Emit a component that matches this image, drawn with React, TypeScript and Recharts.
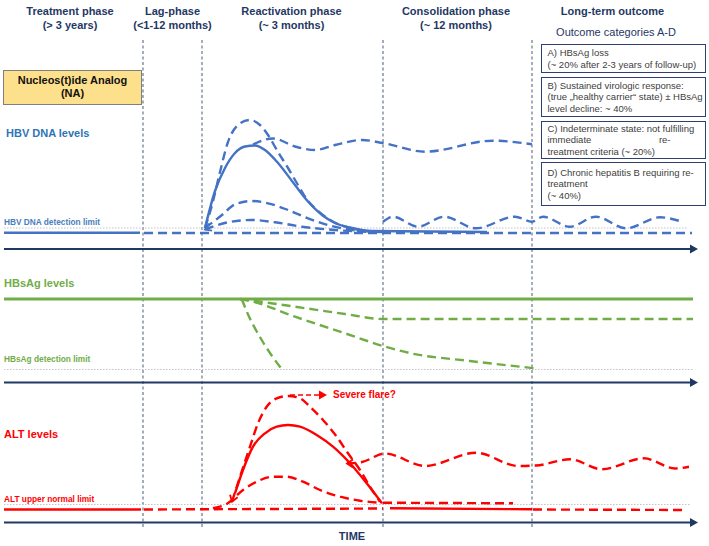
import React from "react";
import { ComposedChart, Line, Scatter, XAxis, YAxis, ReferenceLine } from "recharts";

// Schematic coordinates: x = time (0-709), y = depth from the top of the figure (0-546)
type Pt = { x: number; y: number };

const phaseBoundaries = [143, 202, 383, 532];
const phaseSpan = [40, 527];

// --- HBV DNA panel ---
const hbvAxis: Pt[] = [{ x: 4, y: 249 }, { x: 694, y: 249 }];
const hbvLimit: Pt[] = [{ x: 4, y: 228 }, { x: 688, y: 228 }];
const hbvOnTreatment: Pt[] = [{ x: 4, y: 232.7 }, { x: 140, y: 232.7 }];
const hbvBaseline: Pt[] = [{ x: 144, y: 233 }, { x: 692, y: 233 }];
const hbvFlare: Pt[] = [
  { x: 205, y: 228 }, { x: 215, y: 191 }, { x: 225, y: 168 }, { x: 235, y: 153 }, { x: 245, y: 146.5 },
  { x: 255, y: 145.5 }, { x: 265, y: 150 }, { x: 278, y: 163 }, { x: 295, y: 185 }, { x: 308, y: 201.5 },
  { x: 322, y: 215 }, { x: 335, y: 223 }, { x: 352, y: 228 }, { x: 372, y: 231 }, { x: 487, y: 232 },
];
const hbvHigh: Pt[] = [
  { x: 205, y: 228 }, { x: 212, y: 205 }, { x: 220, y: 172 }, { x: 228, y: 142 }, { x: 238, y: 125 },
  { x: 250, y: 120 }, { x: 260, y: 125 }, { x: 268, y: 135 }, { x: 278, y: 152 }, { x: 288, y: 168 },
  { x: 298, y: 185 }, { x: 308, y: 201 }, { x: 318, y: 211 }, { x: 330, y: 220 }, { x: 350, y: 228 },
  { x: 372, y: 231.5 },
];
const hbvPlateau: Pt[] = [
  { x: 253, y: 144.5 }, { x: 273, y: 138.5 }, { x: 295, y: 146.5 }, { x: 315, y: 150 }, { x: 335, y: 145 },
  { x: 362, y: 140 }, { x: 383, y: 143 }, { x: 425, y: 151.7 }, { x: 493, y: 140.7 }, { x: 532, y: 144.3 },
];
const hbvModerate: Pt[] = [
  { x: 205, y: 228 }, { x: 222, y: 215 }, { x: 235, y: 204.3 }, { x: 252, y: 201 }, { x: 268, y: 203.3 },
  { x: 288, y: 210 }, { x: 308, y: 218.3 }, { x: 328, y: 225 }, { x: 352, y: 230 }, { x: 382, y: 232 },
];
const hbvLow: Pt[] = [
  { x: 205, y: 229.5 }, { x: 228, y: 222.3 }, { x: 252, y: 220 }, { x: 275, y: 222.3 }, { x: 302, y: 226.7 },
  { x: 335, y: 230 }, { x: 372, y: 232 },
];
const hbvFluctuating: Pt[] = [
  { x: 383, y: 221.7 }, { x: 393, y: 216.7 }, { x: 418, y: 226.7 }, { x: 444, y: 216.7 }, { x: 476, y: 228.3 },
  { x: 515, y: 216.7 }, { x: 532, y: 221.7 }, { x: 543, y: 216.7 }, { x: 570, y: 226.7 }, { x: 596, y: 216.7 },
  { x: 626, y: 228.3 }, { x: 660, y: 217.3 }, { x: 682, y: 221.7 },
];

// --- HBsAg panel ---
const hbsAxis: Pt[] = [{ x: 4, y: 382.5 }, { x: 694, y: 382.5 }];
const hbsLimit: Pt[] = [{ x: 4, y: 369.5 }, { x: 693, y: 369.5 }];
const hbsStable: Pt[] = [{ x: 4, y: 299 }, { x: 693, y: 299 }];
const hbsDecline: Pt[] = [
  { x: 240, y: 299 }, { x: 248, y: 300 }, { x: 295, y: 306.7 }, { x: 345, y: 314 }, { x: 383, y: 319 },
  { x: 693, y: 319 },
];
const hbsGradual: Pt[] = [
  { x: 240, y: 299 }, { x: 253, y: 301.7 }, { x: 295, y: 316.7 }, { x: 345, y: 333.3 }, { x: 383, y: 346 },
  { x: 411, y: 353.3 }, { x: 470, y: 361 }, { x: 535, y: 368.3 },
];
const hbsLoss: Pt[] = [
  { x: 241.7, y: 299 }, { x: 248.3, y: 315 }, { x: 261.7, y: 340 }, { x: 282, y: 369.5 },
];

// --- ALT panel ---
const altAxis: Pt[] = [{ x: 4, y: 522.5 }, { x: 694, y: 522.5 }];
const altLimit: Pt[] = [{ x: 4, y: 504.5 }, { x: 690, y: 504.5 }];
const altOnTreatment: Pt[] = [{ x: 4, y: 509.5 }, { x: 141, y: 509.5 }];
const altBaseline: Pt[] = [{ x: 144, y: 509.5 }, { x: 383, y: 508.5 }];
const altAfterSolid: Pt[] = [{ x: 390, y: 508.3 }, { x: 532, y: 509.3 }];
const altAfterDashed: Pt[] = [{ x: 533, y: 509.5 }, { x: 686, y: 510 }];
const altShort: Pt[] = [{ x: 383, y: 502.7 }, { x: 513, y: 503.3 }];
const altFlare: Pt[] = [
  { x: 235, y: 493.3 }, { x: 243, y: 470 }, { x: 253, y: 446.7 }, { x: 265, y: 433.3 }, { x: 276.7, y: 426.7 },
  { x: 288, y: 425 }, { x: 300, y: 426.7 }, { x: 316.7, y: 435 }, { x: 333, y: 446.7 }, { x: 350, y: 463.3 },
  { x: 366.7, y: 483.3 }, { x: 382, y: 503.3 },
];
const altSevere: Pt[] = [
  { x: 232, y: 501.7 }, { x: 240, y: 476.7 }, { x: 250, y: 446.7 }, { x: 258, y: 423.3 }, { x: 266.7, y: 406.7 },
  { x: 276.7, y: 398.3 }, { x: 288, y: 396 }, { x: 300, y: 398.3 }, { x: 310, y: 406.7 }, { x: 323, y: 420 },
  { x: 336.7, y: 436.7 }, { x: 348, y: 453.3 }, { x: 360, y: 470 }, { x: 370, y: 486.7 }, { x: 380, y: 501.7 },
];
const altModerate: Pt[] = [
  { x: 213, y: 508.3 }, { x: 226.7, y: 504 }, { x: 243, y: 490 }, { x: 256.7, y: 481.7 }, { x: 273, y: 476.7 },
  { x: 286.7, y: 476.7 }, { x: 303, y: 481.7 }, { x: 320, y: 490 }, { x: 340, y: 496.7 }, { x: 360, y: 500.7 },
  { x: 380, y: 502.7 },
];
const altSevereArrow: Pt[] = [{ x: 290, y: 395 }, { x: 322, y: 395 }];
const altFluctuating: Pt[] = [
  { x: 347, y: 463.5 }, { x: 362, y: 462 }, { x: 385, y: 453.5 }, { x: 425, y: 466 }, { x: 476, y: 452.7 },
  { x: 518, y: 466 }, { x: 536, y: 465.5 }, { x: 570, y: 459.3 }, { x: 602, y: 469.3 }, { x: 644, y: 458.3 },
  { x: 675, y: 468.5 }, { x: 689, y: 466.7 },
];

// arrowhead anchors
const axisHeads: Pt[] = [{ x: 698, y: 249 }, { x: 698, y: 382.5 }, { x: 698, y: 522.5 }];
const flareHead: Pt[] = [{ x: 327, y: 395 }];
const severeHead: Pt[] = [{ x: 232, y: 501.7 }];
const hbvLowHead: Pt[] = [{ x: 205, y: 229.5 }];
const altWaveHead: Pt[] = [{ x: 347, y: 463.5 }];

const NAVY = "#1f3864";
const BLUE = "#4472c4";
const GREEN = "#70ad47";
const RED = "#ff0000";

const solidHead = (color: string, angle: number) => (p: any) => (
  <path
    d={`M${p.cx - 8},${p.cy - 4.5}L${p.cx},${p.cy}L${p.cx - 8},${p.cy + 4.5}Z`}
    fill={color}
    transform={`rotate(${angle} ${p.cx} ${p.cy})`}
  />
);
const openHead = (color: string, angle: number) => (p: any) => (
  <path
    d={`M${p.cx - 6},${p.cy - 4}L${p.cx},${p.cy}L${p.cx - 6},${p.cy + 4}`}
    fill="none"
    stroke={color}
    strokeWidth={1.8}
    transform={`rotate(${angle} ${p.cx} ${p.cy})`}
  />
);

function series(data: Pt[], color: string, width: number, dash?: string, type: any = "monotone") {
  return (
    <Line
      data={data}
      dataKey="y"
      type={type}
      stroke={color}
      strokeWidth={width}
      strokeDasharray={dash}
      dot={false}
      activeDot={false}
      isAnimationActive={false}
      legendType="none"
    />
  );
}

const headers = [
  { title: "Treatment phase", sub: "(> 3 years)", cx: 70 },
  { title: "Lag-phase", sub: "(<1-12 months)", cx: 172.5 },
  { title: "Reactivation phase", sub: "(~ 3 months)", cx: 291.5 },
  { title: "Consolidation phase", sub: "(~ 12 months)", cx: 456 },
];

const outcomes = [
  { top: 44, height: 29, lines: ["A) HBsAg loss", "(~ 20% after 2-3 years of follow-up)"] },
  { top: 77, height: 40, lines: ["B) Sustained virologic response:", "(true \u201Ehealthy carrier\u201C state) \u00B1 HBsAg", "level decline: ~ 40%"] },
  { top: 121, height: 38, lines: ["C) Indeterminate state: not fulfilling", "immediate|re-", "treatment criteria (~ 20%)"] },
  { top: 162, height: 44, lines: ["D) Chronic hepatitis B requiring re-", "treatment", "(~ 40%)"] },
];

const abs = (s: React.CSSProperties): React.CSSProperties => ({ position: "absolute", whiteSpace: "nowrap", ...s });

export default function App() {
  const dashBlue = "9 5";
  return (
    <div style={{ position: "absolute", left: 0, top: 0, width: 709, height: 546, background: "#fff", fontFamily: "'Liberation Sans', Arial, sans-serif" }}>
      <div style={abs({ left: 0, top: 0 })}>
        <ComposedChart width={709} height={546} margin={{ top: 0, right: 0, bottom: 0, left: 0 }}>
          <XAxis type="number" dataKey="x" domain={[0, 709]} hide allowDataOverflow />
          <YAxis type="number" domain={[0, 546]} reversed hide allowDataOverflow />
          {phaseBoundaries.map((x) => (
            <ReferenceLine
              key={x}
              segment={[{ x, y: phaseSpan[0] }, { x, y: phaseSpan[1] }]}
              stroke="#5a6a85"
              strokeWidth={1.1}
              strokeDasharray="3 2.5"
              ifOverflow="visible"
            />
          ))}

          {/* HBV DNA */}
          {series(hbvLimit, "#c0c4cc", 1, "1.5 1.5", "linear")}
          {series(hbvAxis, NAVY, 2, undefined, "linear")}
          {series(hbvOnTreatment, BLUE, 2.4, undefined, "linear")}
          {series(hbvBaseline, BLUE, 2.4, dashBlue, "linear")}
          {series(hbvLow, BLUE, 2.4, dashBlue)}
          {series(hbvModerate, BLUE, 2.4, dashBlue)}
          {series(hbvHigh, BLUE, 2.4, dashBlue)}
          {series(hbvPlateau, BLUE, 2.4, dashBlue)}
          {series(hbvFluctuating, BLUE, 2.4, dashBlue)}
          {series(hbvFlare, BLUE, 2.4)}

          {/* HBsAg */}
          {series(hbsLimit, "#c0c4cc", 1, "1.5 1.5", "linear")}
          {series(hbsAxis, NAVY, 2, undefined, "linear")}
          {series(hbsStable, GREEN, 2.8, undefined, "linear")}
          {series(hbsDecline, GREEN, 2.4, "9 5")}
          {series(hbsGradual, GREEN, 2.4, "9 5")}
          {series(hbsLoss, GREEN, 2.4, "9 5")}

          {/* ALT */}
          {series(altLimit, "#c0c4cc", 1, "1.5 1.5", "linear")}
          {series(altAxis, NAVY, 2, undefined, "linear")}
          {series(altOnTreatment, RED, 2.4, undefined, "linear")}
          {series(altBaseline, RED, 2.4, "9 5", "linear")}
          {series(altAfterSolid, RED, 2.4, undefined, "linear")}
          {series(altAfterDashed, RED, 2.4, "9 5", "linear")}
          {series(altShort, RED, 2.4, "9 5", "linear")}
          {series(altModerate, RED, 2.4, "9 5")}
          {series(altSevere, RED, 2.4, "9 5")}
          {series(altFluctuating, RED, 2.4, "9 5")}
          {series(altFlare, RED, 2.4)}
          {series(altSevereArrow, RED, 1.6, "5 3", "linear")}

          <Scatter data={axisHeads} dataKey="y" shape={solidHead(NAVY, 0)} isAnimationActive={false} legendType="none" />
          <Scatter data={flareHead} dataKey="y" shape={solidHead(RED, 0)} isAnimationActive={false} legendType="none" />
          <Scatter data={severeHead} dataKey="y" shape={openHead(RED, 108)} isAnimationActive={false} legendType="none" />
          <Scatter data={hbvLowHead} dataKey="y" shape={openHead(BLUE, 156)} isAnimationActive={false} legendType="none" />
          <Scatter data={altWaveHead} dataKey="y" shape={openHead(RED, 180)} isAnimationActive={false} legendType="none" />
        </ComposedChart>
      </div>

      {/* phase headers */}
      {headers.map((h) => (
        <div key={h.title} style={abs({ left: h.cx - 70, width: 140, top: 5, textAlign: "center", color: NAVY, fontWeight: 700, fontSize: 11, lineHeight: "13.5px" })}>
          <div>{h.title}</div>
          <div>{h.sub}</div>
        </div>
      ))}
      <div style={abs({ left: 542.5, width: 140, top: 5, textAlign: "center", color: NAVY, fontWeight: 700, fontSize: 11, lineHeight: "13.5px" })}>
        Long-term outcome
      </div>
      <div style={abs({ left: 546, width: 140, top: 25, textAlign: "center", color: NAVY, fontSize: 11, lineHeight: "14px" })}>
        Outcome categories A-D
      </div>

      {/* NA box */}
      <div style={abs({ left: 3, top: 70, width: 137, height: 30, background: "#fde08b", border: "1px solid #7f7f7f", textAlign: "center", fontWeight: 700, fontSize: 11, lineHeight: "13px", color: "#111", paddingTop: 3, boxSizing: "content-box" })}>
        <div>Nucleos(t)ide Analog</div>
        <div>(NA)</div>
      </div>

      {/* outcome boxes */}
      {outcomes.map((o) => (
        <div key={o.top} style={abs({ left: 540.5, top: o.top, width: 165, height: o.height, boxSizing: "border-box", border: "1.3px solid #2f3f6f", background: "#fff", display: "flex", flexDirection: "column", justifyContent: "center", paddingLeft: 6, paddingRight: 4, fontSize: 9.5, lineHeight: "11.5px", color: "#404040" })}>
          {o.lines.map((l) =>
            l.includes("|") ? (
              <div key={l} style={{ display: "flex", justifyContent: "space-between", width: 123 }}>
                <span>{l.split("|")[0]}</span>
                <span>{l.split("|")[1]}</span>
              </div>
            ) : (
              <div key={l}>{l}</div>
            )
          )}
        </div>
      ))}

      {/* panel labels */}
      <div style={abs({ left: 6, top: 126, color: "#2e75b6", fontWeight: 700, fontSize: 11, lineHeight: "14px" })}>HBV DNA levels</div>
      <div style={abs({ left: 4, top: 217, color: "#4a7ebb", fontWeight: 700, fontSize: 8.3, lineHeight: "10px" })}>HBV DNA detection limit</div>
      <div style={abs({ left: 4, top: 276, color: GREEN, fontWeight: 700, fontSize: 11, lineHeight: "14px" })}>HBsAg levels</div>
      <div style={abs({ left: 4, top: 354, color: GREEN, fontWeight: 700, fontSize: 8.3, lineHeight: "10px" })}>HBsAg detection limit</div>
      <div style={abs({ left: 4, top: 427, color: RED, fontWeight: 700, fontSize: 11, lineHeight: "14px" })}>ALT levels</div>
      <div style={abs({ left: 4, top: 494, color: RED, fontWeight: 700, fontSize: 8.3, lineHeight: "10px" })}>ALT upper normal limit</div>
      <div style={abs({ left: 333, top: 389, color: RED, fontWeight: 700, fontSize: 10, lineHeight: "12px" })}>Severe flare?</div>
      <div style={abs({ left: 322, width: 60, top: 530, textAlign: "center", color: NAVY, fontWeight: 700, fontSize: 11, lineHeight: "13px" })}>TIME</div>
    </div>
  );
}
